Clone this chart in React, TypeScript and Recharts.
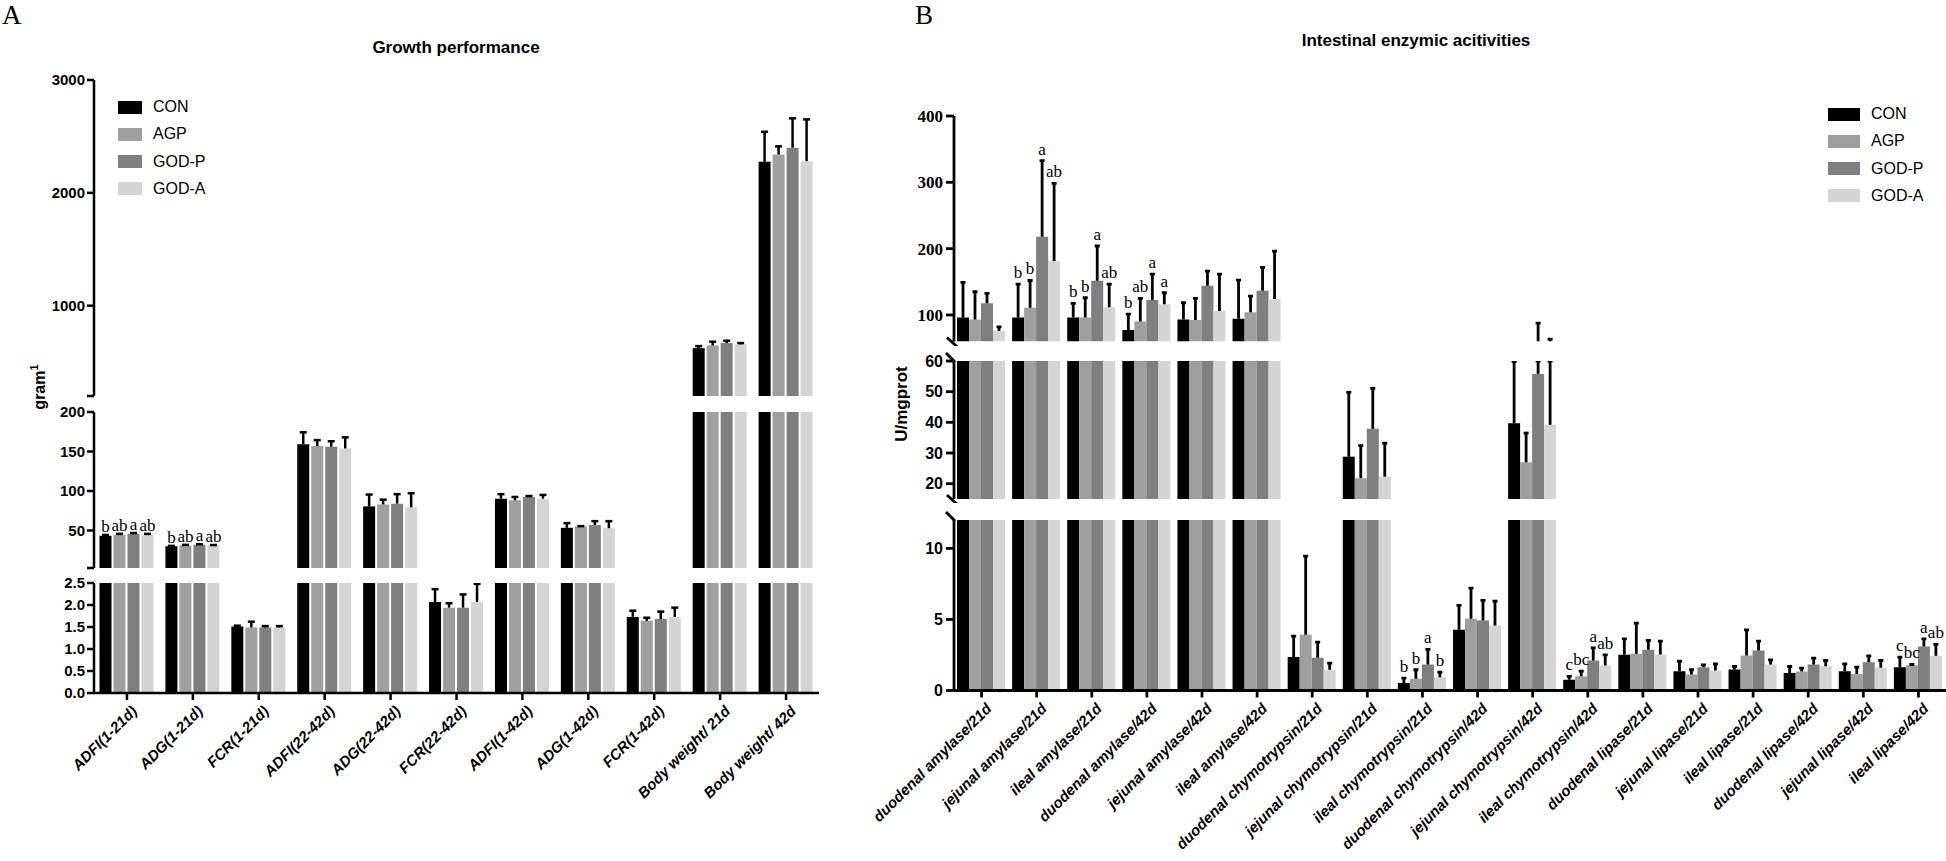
import React from 'react';
import { BarChart, Bar, XAxis, YAxis, LabelList } from 'recharts';

// ---------- shared series ----------
const SERIES_NAMES = ['CON', 'AGP', 'GOD-P', 'GOD-A'];
const SERIES_COLORS = ['#000000', '#9f9f9f', '#7f7f7f', '#d4d4d4'];

// ---------- Panel A : Growth performance ----------
const A_CATEGORIES = [
  'ADFI(1-21d)', 'ADG(1-21d)', 'FCR(1-21d)', 'ADFI(22-42d)', 'ADG(22-42d)', 'FCR(22-42d)',
  'ADFI(1-42d)', 'ADG(1-42d)', 'FCR(1-42d)', 'Body weight/ 21d', 'Body weight/ 42d',
];
const A_CON = [43.3, 30.0, 1.51, 159.3, 80.5, 2.07, 90.3, 53.4, 1.73, 624, 2275];
const A_AGP = [44.5, 31.0, 1.49, 156.8, 83.0, 1.94, 88.2, 55.1, 1.64, 648, 2340];
const A_GODP = [45.8, 32.0, 1.49, 156.0, 84.0, 1.94, 92.4, 56.8, 1.68, 669, 2400];
const A_GODA = [44.5, 31.0, 1.49, 153.9, 79.2, 2.07, 90.3, 52.9, 1.73, 657, 2281];
const A_CON_SD = [1.0, 0.5, 0.02, 15.0, 15.0, 0.29, 5.7, 5.9, 0.14, 18, 266];
const A_AGP_SD = [1.2, 0.8, 0.13, 7.6, 6.0, 0.10, 4.2, 0.4, 0.07, 33, 72];
const A_GODP_SD = [1.0, 0.6, 0.03, 7.0, 12.0, 0.30, 1.2, 5.0, 0.17, 21, 260];
const A_GODA_SD = [1.2, 0.6, 0.03, 14.0, 18.0, 0.41, 4.7, 8.9, 0.21, 12, 370];
const A_LETTERS: (string[] | null)[] = [
  ['b', 'ab', 'a', 'ab'], ['b', 'ab', 'a', 'ab'], null, null, null, null, null, null, null, null, null,
];
const A_TICKS_UPPER = [200, 1000, 2000, 3000];
const A_TICKS_MIDDLE = [2.5, 50, 100, 150, 200];
const A_TICKS_LOWER = [0, 0.5, 1, 1.5, 2, 2.5];

// ---------- Panel B : Intestinal enzymic activities ----------
const B_CATEGORIES = [
  'duodenal amylase/21d', 'jejunal amylase/21d', 'ileal amylase/21d', 'duodenal amylase/42d',
  'jejunal amylase/42d', 'ileal amylase/42d', 'duodenal chymotrypsin/21d', 'jejunal chymotrypsin/21d',
  'ileal chymotrypsin/21d', 'duodenal chymotrypsin/42d', 'jejunal chymotrypsin/42d', 'ileal chymotrypsin/42d',
  'duodenal lipase/21d', 'jejunal lipase/21d', 'ileal lipase/21d', 'duodenal lipase/42d',
  'jejunal lipase/42d', 'ileal lipase/42d',
];
const B_CON = [96, 96, 96, 77.2, 93.3, 94.3, 2.35, 28.8, 0.52, 4.27, 39.7, 0.75, 2.51, 1.36, 1.48, 1.24, 1.36, 1.64];
const B_AGP = [93, 111, 96, 90.3, 92.3, 104, 3.92, 21.8, 0.82, 5.05, 27.0, 1.0, 2.58, 1.13, 2.46, 1.34, 1.17, 1.78];
const B_GODP = [117.5, 218, 151.6, 122.5, 144, 136.5, 2.3, 37.9, 1.83, 4.93, 55.8, 2.11, 2.87, 1.64, 2.82, 1.83, 1.99, 3.1];
const B_GODA = [76, 181.3, 111.5, 116, 106, 124, 1.46, 22.3, 0.94, 4.58, 39.2, 1.76, 2.54, 1.41, 1.83, 1.71, 1.6, 2.44];
const B_CON_SD = [53, 50.6, 21.5, 24.2, 25.1, 58.3, 1.48, 21.0, 0.35, 1.72, 20.1, 0.25, 1.13, 0.7, 0.21, 0.45, 0.52, 0.71];
const B_AGP_SD = [42, 41, 30, 34.7, 32.7, 24.5, 5.54, 10.6, 0.64, 2.15, 9.5, 0.36, 2.16, 0.33, 1.81, 0.23, 0.47, 0.05];
const B_GODP_SD = [15.1, 114.6, 52.4, 39.2, 22, 35.2, 1.1, 13.2, 1.06, 1.41, 32.0, 0.89, 0.65, 0.17, 0.65, 0.45, 0.45, 0.54];
const B_GODA_SD = [6, 117.2, 35.1, 17.5, 55.7, 72.4, 0.46, 10.9, 0.35, 1.71, 24.5, 0.75, 0.93, 0.47, 0.33, 0.4, 0.51, 0.8];
const B_LETTERS: (string[] | null)[] = [
  null, ['b', 'b', 'a', 'ab'], ['b', 'b', 'a', 'ab'], ['b', 'ab', 'a', 'a'], null, null,
  null, null, ['b', 'b', 'a', 'b'], null, null, ['c', 'bc', 'a', 'ab'],
  null, null, null, null, null, ['c', 'bc', 'a', 'ab'],
];
const B_TICKS_UPPER = [60, 100, 200, 300, 400];
const B_TICKS_MIDDLE = [15, 20, 30, 40, 50, 60];
const B_TICKS_LOWER = [0, 5, 10, 12];

// ---------- helpers ----------
const SANS = "'Liberation Sans', Arial, Helvetica, sans-serif";
const SERIF = "'Liberation Serif', 'Times New Roman', serif";

function buildRows(cats: string[], means: number[][], sds: number[][], letters: (string[] | null)[], lo: number, hi: number) {
  return cats.map((name, i) => {
    const row: any = { name };
    for (let s = 0; s < means.length; s++) {
      row['v' + s] = means[s][i];
      row['e' + s] = sds[s][i];
      const top = means[s][i] + sds[s][i];
      const l = letters[i] ? (letters[i] as string[])[s] : '';
      row['l' + s] = top > lo && top <= hi ? l : '';
    }
    return row;
  });
}

function YTick(props: any) {
  const { x, y, payload, cfg } = props;
  const v = payload.value;
  const ax = x + cfg.tickSize + cfg.tickMargin;
  const label = cfg.format(v);
  const brk = cfg.breaks ? cfg.breaks[String(v)] : undefined;
  return (
    <g>
      {label !== null && (
        <line x1={ax - cfg.tickSize} x2={ax} y1={y} y2={y} stroke="#000" strokeWidth={cfg.sw} />
      )}
      {label ? (
        <text x={x} y={y} dy="0.36em" textAnchor="end" fontFamily={cfg.font} fontWeight="bold" fontSize={cfg.fontSize} fill="#000">
          {label}
        </text>
      ) : null}
      {brk === 'bottom' && <line x1={ax - 7} y1={y - 4} x2={ax + 5} y2={y + 7} stroke="#000" strokeWidth={cfg.sw} />}
      {brk === 'top' && <line x1={ax - 8} y1={y - 8} x2={ax + 1} y2={y + 1} stroke="#000" strokeWidth={cfg.sw} />}
    </g>
  );
}

function XTick(props: any) {
  const { x, y, payload, fontSize } = props;
  return (
    <text
      transform={`translate(${x + 11},${y + 10}) rotate(-45)`}
      textAnchor="end"
      fontFamily={SANS}
      fontWeight="bold"
      fontStyle="italic"
      fontSize={fontSize}
      fill="#000"
    >
      {payload.value}
    </text>
  );
}

function ErrShape(props: any) {
  const { x, y, width, height, capW, sw } = props;
  if (![x, y, width, height].every((n: any) => Number.isFinite(n))) return null;
  if (Math.abs(height) < 0.3) return null;
  const cx = x + width / 2;
  const top = Math.min(y, y + height);
  const bottom = Math.max(y, y + height);
  return (
    <g>
      <line x1={cx} x2={cx} y1={bottom} y2={top} stroke="#000" strokeWidth={sw} />
      <line x1={cx - capW / 2} x2={cx + capW / 2} y1={top} y2={top} stroke="#000" strokeWidth={sw} />
    </g>
  );
}

function Letter(props: any) {
  const { value, fs, gap } = props;
  if (!value) return null;
  const vb = props.viewBox || {};
  const x = Number.isFinite(props.x) ? props.x : vb.x;
  const y = Number.isFinite(props.y) ? props.y : vb.y;
  const w = Number.isFinite(props.width) ? props.width : vb.width;
  if (!Number.isFinite(x) || !Number.isFinite(y)) return null;
  return (
    <text x={x + w / 2} y={y - gap} textAnchor="middle" fontFamily={SERIF} fontSize={fs} fill="#000">
      {value}
    </text>
  );
}

function Segment(p: any) {
  const { rows, left, top, width, height, margin, yWidth, domain, ticks, ycfg, showX, xHeight, bandGap, barGap, xFont, capW, sw, letterGap } = p;
  return (
    <div style={{ position: 'absolute', left, top }}>
      <BarChart width={width} height={height} data={rows} margin={margin} barCategoryGap={bandGap} barGap={barGap}>
        <XAxis
          dataKey="name"
          type="category"
          hide={!showX}
          height={showX ? xHeight : 0}
          interval={0}
          tickSize={7}
          axisLine={{ stroke: '#000', strokeWidth: sw }}
          tickLine={{ stroke: '#000', strokeWidth: sw }}
          tick={<XTick fontSize={xFont} />}
        />
        <YAxis
          type="number"
          domain={domain}
          ticks={ticks}
          allowDataOverflow
          interval={0}
          width={yWidth}
          tickSize={ycfg.tickSize}
          tickMargin={ycfg.tickMargin}
          tickLine={false}
          axisLine={{ stroke: '#000', strokeWidth: sw }}
          tick={<YTick cfg={ycfg} />}
        />
        {SERIES_NAMES.map((name, s) => (
          <React.Fragment key={name}>
            <Bar dataKey={'v' + s} name={name} stackId={'g' + s} fill={SERIES_COLORS[s]} isAnimationActive={false} />
            <Bar
              dataKey={'e' + s}
              stackId={'g' + s}
              fill="none"
              legendType="none"
              shape={<ErrShape capW={capW} sw={sw} />}
              isAnimationActive={false}
            >
              <LabelList dataKey={'l' + s} content={<Letter fs={17} gap={letterGap} />} />
            </Bar>
          </React.Fragment>
        ))}
      </BarChart>
    </div>
  );
}

function LegendBox({ left, top, boxW, rowH }: any) {
  return (
    <>
      {SERIES_NAMES.map((name, i) => (
        <React.Fragment key={name}>
          <div
            style={{
              position: 'absolute', left, top: top + i * rowH - 6.5, width: boxW, height: 13,
              background: SERIES_COLORS[i],
            }}
          />
          <div
            style={{
              position: 'absolute', left: left + boxW + 11, top: top + i * rowH - 10, height: 20, lineHeight: '20px',
              fontFamily: SANS, fontSize: 16, color: '#000', whiteSpace: 'nowrap',
            }}
          >
            {name}
          </div>
        </React.Fragment>
      ))}
    </>
  );
}

export default function App() {
  const aMeans = [A_CON, A_AGP, A_GODP, A_GODA];
  const aSds = [A_CON_SD, A_AGP_SD, A_GODP_SD, A_GODA_SD];
  const bMeans = [B_CON, B_AGP, B_GODP, B_GODA];
  const bSds = [B_CON_SD, B_AGP_SD, B_GODP_SD, B_GODA_SD];

  const aCommon = {
    left: 0, width: 830, yWidth: 94, bandGap: 5.5, barGap: 2, xFont: 15, capW: 7, sw: 2.5, letterGap: 3,
  };
  const aY = (format: any) => ({ tickSize: 7, tickMargin: 2, font: SANS, fontSize: 15, sw: 2.5, format });

  const bCommon = {
    left: 850, width: 1096, yWidth: 104, bandGap: 3, barGap: 0, xFont: 15, capW: 5, sw: 2.8, letterGap: 6,
  };
  const bY = (format: any, font: string, fontSize: number, breaks: any) => ({ tickSize: 8, tickMargin: 3, font, fontSize, sw: 2.8, format, breaks });

  return (
    <div style={{ position: 'absolute', left: 0, top: 0, width: 1946, height: 861, background: '#fff', overflow: 'hidden' }}>
      {/* Panel A */}
      <Segment
        {...aCommon}
        rows={buildRows(A_CATEGORIES, aMeans, aSds, A_LETTERS, 200, 3000)}
        top={70} height={330} margin={{ top: 10, right: 11, bottom: 4, left: 0 }}
        domain={[200, 3000]} ticks={A_TICKS_UPPER}
        ycfg={aY((v: number) => (v === 200 ? '' : String(v)))}
        showX={false}
      />
      <Segment
        {...aCommon}
        rows={buildRows(A_CATEGORIES, aMeans, aSds, A_LETTERS, 2.5, 200)}
        top={402} height={170} margin={{ top: 10, right: 11, bottom: 4, left: 0 }}
        domain={[2.5, 200]} ticks={A_TICKS_MIDDLE}
        ycfg={aY((v: number) => (v === 2.5 ? '' : String(v)))}
        showX={false}
      />
      <Segment
        {...aCommon}
        rows={buildRows(A_CATEGORIES, aMeans, aSds, A_LETTERS, 0, 2.5)}
        top={573} height={270} margin={{ top: 10, right: 11, bottom: 0, left: 0 }}
        domain={[0, 2.5]} ticks={A_TICKS_LOWER}
        ycfg={aY((v: number) => v.toFixed(1))}
        showX xHeight={150}
      />

      {/* Panel B */}
      <Segment
        {...bCommon}
        rows={buildRows(B_CATEGORIES, bMeans, bSds, B_LETTERS, 60, 400)}
        top={106} height={239.5} margin={{ top: 10, right: 0, bottom: 4, left: 0 }}
        domain={[60, 400]} ticks={B_TICKS_UPPER}
        ycfg={bY((v: number) => (v === 60 ? null : String(v)), SERIF, 17, { '60': 'bottom' })}
        showX={false}
      />
      <Segment
        {...bCommon}
        rows={buildRows(B_CATEGORIES, bMeans, bSds, B_LETTERS, 15, 60)}
        top={351} height={152} margin={{ top: 10, right: 0, bottom: 4, left: 0 }}
        domain={[15, 60]} ticks={B_TICKS_MIDDLE}
        ycfg={bY((v: number) => (v === 15 ? null : String(v)), SANS, 16, { '15': 'bottom', '60': 'top' })}
        showX={false}
      />
      <Segment
        {...bCommon}
        rows={buildRows(B_CATEGORIES, bMeans, bSds, B_LETTERS, 0, 12)}
        top={509.5} height={350.5} margin={{ top: 10, right: 0, bottom: 0, left: 0 }}
        domain={[0, 12]} ticks={B_TICKS_LOWER}
        ycfg={bY((v: number) => (v === 12 ? null : String(v)), SANS, 16, { '12': 'top' })}
        showX xHeight={170}
      />

      {/* Text overlay */}
      <svg width={1946} height={861} style={{ position: 'absolute', left: 0, top: 0, pointerEvents: 'none' }}>
        <text x={2} y={24} fontFamily={SERIF} fontSize={27} fill="#000">A</text>
        <text x={915} y={24} fontFamily={SERIF} fontSize={27} fill="#000">B</text>
        <text x={456} y={53} textAnchor="middle" fontFamily={SANS} fontWeight="bold" fontSize={17} fill="#000">Growth performance</text>
        <text x={1416} y={46} textAnchor="middle" fontFamily={SANS} fontWeight="bold" fontSize={17} fill="#000">Intestinal enzymic acitivities</text>
        <text transform="translate(45,387) rotate(-90)" textAnchor="middle" fontFamily={SANS} fontWeight="bold" fontSize={16} fill="#000">
          gram<tspan dy={-7} fontSize={11}>1</tspan>
        </text>
        <text transform="translate(907,404) rotate(-90)" textAnchor="middle" fontFamily={SANS} fontWeight="bold" fontSize={17} fill="#000">U/mgprot</text>
      </svg>

      <LegendBox left={118} top={107} boxW={24} rowH={27.3} />
      <LegendBox left={1828} top={114} boxW={32} rowH={27.3} />
    </div>
  );
}
